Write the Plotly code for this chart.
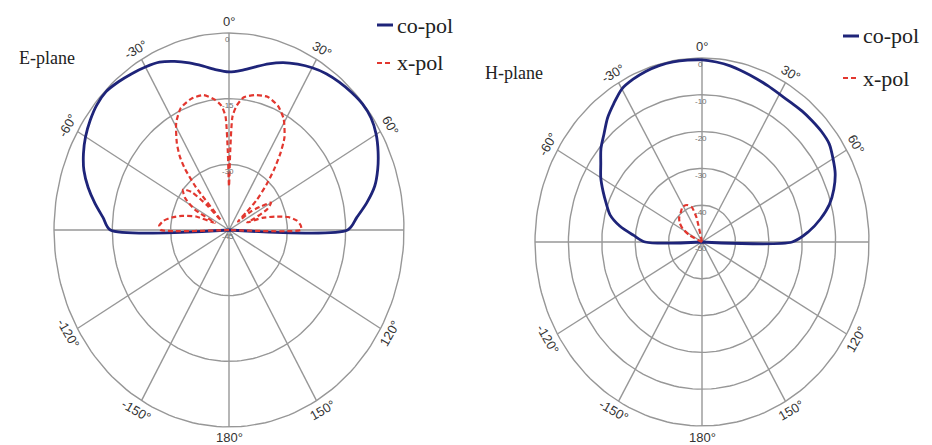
import numpy as np
import plotly.graph_objects as go

W, H = 932, 445

# ---------------- E-plane data (dB, normalised) ----------------
e_floor = -45
e_ring_db = [0, -15, -30]
e_ring_text = ["0", "-15", "-30", "-45"]

e_co_theta = [-180, -91, -90, -85, -80, -75, -70, -65, -60, -55, -50, -45, -40,
              -35, -30, -25, -20, -15, -10, -5, 0, 5, 10, 15, 20, 25, 30, 35,
              40, 45, 50, 55, 60, 65, 70, 75, 80, 85, 90, 91, 180]
e_co_db = [-45, -45, -14.5, -12.5, -10.0, -7.5, -5.3, -3.7, -2.4, -1.4, -0.6,
           -0.3, -0.8, -1.4, -2.0, -2.7, -4.0, -5.5, -7.0, -8.3, -8.9, -8.4,
           -7.2, -5.7, -4.3, -3.2, -2.2, -1.4, -0.9, -0.5, -0.2, -0.4, -1.3,
           -2.7, -4.3, -6.2, -9.0, -12.0, -14.5, -45, -45]

e_x_theta = [-180, -91, -90, -87, -83, -79, -75, -70, -66, -62, -57, -52, -48,
             -45, -43, -41, -39, -37, -34, -29, -24, -18, -12, -7, -4, -2, -1,
             0, 1, 2, 4, 7, 12, 18, 24, 29, 34, 37, 40, 43, 46, 48, 50, 53, 57,
             60, 64, 68, 70, 72, 76, 79, 83, 87, 90, 91, 180]
e_x_db = [-45, -45, -27.5, -27, -28, -30, -32.5, -36, -41, -35, -31.5, -30, -32,
          -37, -42, -32, -27, -24, -21, -17, -14.5, -13.5, -13.5, -15, -16.5,
          -19, -27, -35, -27, -19, -16.5, -14.5, -13.5, -13, -14, -16, -19.5,
          -23, -27, -31, -35, -39, -42, -38, -35, -32.5, -34, -38, -40, -36,
          -32.3, -29.5, -27.4, -26.5, -26.5, -45, -45]

# ---------------- H-plane data (dB, normalised) ----------------
h_floor = -50
h_ring_db = [0, -10, -20, -30, -40]
h_ring_text = ["0", "-10", "-20", "-30", "-40", "-50"]

h_co_theta = [-180, -91, -90, -85, -80, -75, -70, -65, -60, -55, -50, -45, -40,
              -35, -30, -25, -20, -15, -10, -5, 0, 5, 10, 15, 20, 25, 30, 35,
              40, 45, 50, 55, 60, 65, 70, 75, 80, 85, 90, 91, 180]
h_co_db = [-50, -50, -33, -29.5, -25, -21.5, -19.5, -17.3, -15, -13, -10.5,
           -8.5, -6, -4, -2, -1.2, -0.7, -0.4, -0.3, -0.4, -0.5, -0.9, -1.4,
           -2.1, -2.7, -3.2, -3.6, -3.7, -3.5, -3.4, -3.3, -3.5, -4.7, -6,
           -8, -10.5, -14, -18, -23, -50, -50]

h_x_theta = [-180, -70, -64, -58, -52, -46, -38, -31, -24, -18, -14, -11, 180]
h_x_db = [-50, -50, -46, -43.2, -41.5, -40.5, -39.7, -38.8, -39, -40, -43, -50, -50]

# ---------------- angular ticks ----------------
ang_ticks = [0, 30, 60, 90, 120, 150, 180, -150, -120, -90, -60, -30]
ang_text = ["0°", "30°", "60°", "90°", "120°", "150°", "180°",
            "-150°", "-120°", "-90°", "-60°", "-30°"]

CO_COLOR = "#1e2479"
X_COLOR = "#e2372f"
GRID = "#979797"
TXT = "#333333"

fig = go.Figure()


def to_xy(theta, db, floor):
    th = np.radians(np.asarray(theta, dtype=float))
    r = np.clip(np.asarray(db, dtype=float) - floor, 0, None)
    return r * np.sin(th), r * np.cos(th)


def panel(idx, cx, cy, rx, ry, floor, ring_db, ring_text,
          co_t, co_db, x_t, x_db, title, title_pos, legend_pos):
    xa = "x" if idx == 1 else f"x{idx}"
    ya = "y" if idx == 1 else f"y{idx}"
    rmax = -floor
    sx, sy = rx / rmax, ry / rmax   # pixels per dB unit
    p = 1.06

    fig.layout[("xaxis" if idx == 1 else f"xaxis{idx}")] = dict(
        domain=[(cx - p * rx) / W, (cx + p * rx) / W],
        range=[-p * rmax, p * rmax], visible=False, fixedrange=True,
        anchor=ya)
    fig.layout[("yaxis" if idx == 1 else f"yaxis{idx}")] = dict(
        domain=[1 - (cy + p * ry) / H, 1 - (cy - p * ry) / H],
        range=[-p * rmax, p * rmax], visible=False, fixedrange=True,
        anchor=xa)

    # rings
    circ = np.radians(np.arange(0, 361, 2))
    gx, gy = [], []
    for db in ring_db:
        r = db - floor
        gx += list(r * np.sin(circ)) + [None]
        gy += list(r * np.cos(circ)) + [None]
    # spokes
    for a in ang_ticks:
        t = np.radians(a)
        gx += [0, rmax * np.sin(t), None]
        gy += [0, rmax * np.cos(t), None]
    fig.add_trace(go.Scatter(x=gx, y=gy, mode="lines", xaxis=xa, yaxis=ya,
                             line=dict(color=GRID, width=1.4),
                             hoverinfo="skip", showlegend=False))

    # co-pol
    x, y = to_xy(co_t, co_db, floor)
    fig.add_trace(go.Scatter(x=x, y=y, mode="lines", xaxis=xa, yaxis=ya,
                             line=dict(color=CO_COLOR, width=2.8,
                                       shape="spline", smoothing=0.8),
                             name="co-pol", hoverinfo="skip", showlegend=False))
    # x-pol
    x, y = to_xy(x_t, x_db, floor)
    fig.add_trace(go.Scatter(x=x, y=y, mode="lines", xaxis=xa, yaxis=ya,
                             line=dict(color=X_COLOR, width=2.2, dash="5px,3px",
                                       shape="spline", smoothing=0.6),
                             name="x-pol", hoverinfo="skip", showlegend=False))

    # angular labels
    off = 11.0
    for a, txt in zip(ang_ticks, ang_text):
        t = np.radians(a)
        lx = np.sin(t) * (rx + off) / sx
        ly = np.cos(t) * (ry + off) / sy
        if a > 90:
            ang = a - 180
        elif a < -90:
            ang = a + 180
        else:
            ang = a
        fig.add_annotation(x=lx, y=ly, xref=xa, yref=ya, text=txt,
                           showarrow=False, textangle=ang,
                           font=dict(family="Liberation Sans", size=13, color=TXT))

    # radial labels
    for db, txt in zip(ring_db + [floor], ring_text):
        r = db - floor
        fig.add_annotation(x=-1.5 / sx, y=r - 7 / sy, xref=xa, yref=ya, text=txt,
                           showarrow=False,
                           font=dict(family="Liberation Sans", size=8, color="#6e6e6e"))

    # plane title
    fig.add_annotation(x=title_pos[0] / W, y=1 - title_pos[1] / H, xref="paper",
                       yref="paper", text=title, showarrow=False,
                       xanchor="left", yanchor="middle",
                       font=dict(family="Liberation Serif", size=18, color="#222"))

    # legend
    lx0, ly0, gap = legend_pos
    for k, (name, col, dash, wdt) in enumerate([("co-pol", CO_COLOR, "solid", 3),
                                                 ("x-pol", X_COLOR, "5px,3px", 2.2)]):
        yy = ly0 + k * gap
        fig.add_shape(type="line", xref="paper", yref="paper",
                      x0=lx0 / W, x1=(lx0 + 16) / W,
                      y0=1 - yy / H, y1=1 - yy / H,
                      line=dict(color=col, width=wdt, dash=dash))
        fig.add_annotation(x=(lx0 + 18) / W, y=1 - yy / H, xref="paper",
                           yref="paper", text=name, showarrow=False,
                           xanchor="left", yanchor="middle",
                           font=dict(family="Liberation Serif", size=22, color="#222"))


panel(1, 229, 230, 175, 197, e_floor, e_ring_db, e_ring_text,
      e_co_theta, e_co_db, e_x_theta, e_x_db, "E-plane", (17, 58), (377, 25, 38))
panel(2, 702, 242, 167, 184, h_floor, h_ring_db, h_ring_text,
      h_co_theta, h_co_db, h_x_theta, h_x_db, "H-plane", (483, 73), (843, 36, 42))

fig.update_layout(width=W, height=H, margin=dict(l=0, r=0, t=0, b=0),
                  paper_bgcolor="white", plot_bgcolor="white", showlegend=False)

fig.write_html("out.html")
